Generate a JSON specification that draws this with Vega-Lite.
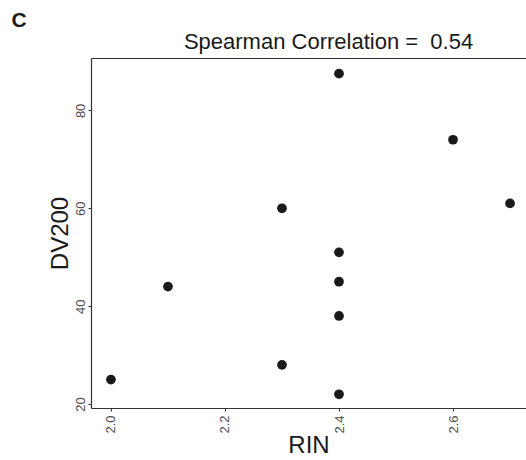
{
  "$schema": "https://vega.github.io/schema/vega-lite/v6.json",
  "width": 435,
  "height": 350,
  "autosize": {"type": "none"},
  "padding": {"left": 91, "top": 58, "right": 0, "bottom": 52},
  "background": "white",
  "config": {
    "font": "Liberation Sans",
    "view": {"stroke": null},
    "axis": {
      "domain": true,
      "domainColor": "#333333",
      "domainWidth": 1.2,
      "grid": false,
      "ticks": true,
      "tickSize": 3,
      "tickColor": "#333333",
      "labelFont": "Liberation Sans",
      "labelFontSize": 13,
      "labelColor": "#4d4d4d",
      "labelAngle": -90,
      "titleFont": "Liberation Sans",
      "titleFontSize": 24,
      "titleFontWeight": "normal",
      "titleColor": "#1a1a1a"
    }
  },
  "title": {
    "text": "Spearman Correlation = \u00a00.54",
    "font": "Liberation Sans",
    "fontSize": 22,
    "fontWeight": "normal",
    "color": "#1a1a1a",
    "anchor": "middle",
    "dx": 20,
    "offset": -44
  },
  "layer": [
    {
      "data": {
        "values": [
          {"RIN": 2.0, "DV200": 25},
          {"RIN": 2.1, "DV200": 44},
          {"RIN": 2.3, "DV200": 28},
          {"RIN": 2.3, "DV200": 60},
          {"RIN": 2.4, "DV200": 87.5},
          {"RIN": 2.4, "DV200": 51},
          {"RIN": 2.4, "DV200": 45},
          {"RIN": 2.4, "DV200": 38},
          {"RIN": 2.4, "DV200": 22},
          {"RIN": 2.6, "DV200": 74},
          {"RIN": 2.7, "DV200": 61}
        ]
      },
      "mark": {"type": "point", "filled": true, "opacity": 1, "size": 95, "color": "#1a1a1a"},
      "encoding": {
        "x": {
          "field": "RIN",
          "type": "quantitative",
          "scale": {"domain": [1.965, 2.728], "nice": false, "zero": false},
          "axis": {"orient": "bottom", "values": [2.0, 2.2, 2.4, 2.6], "format": ".1f", "title": "RIN", "labelPadding": 4, "titlePadding": 0}
        },
        "y": {
          "field": "DV200",
          "type": "quantitative",
          "scale": {"domain": [19.2, 90.7], "nice": false, "zero": false},
          "axis": {"values": [20, 40, 60, 80], "title": "DV200", "labelPadding": 1, "titlePadding": 2, "labelAlign": "center", "labelBaseline": "bottom"}
        }
      }
    },
    {
      "data": {"values": [{"panel": "C"}]},
      "mark": {"type": "text", "fontSize": 21, "fontWeight": "bold", "color": "#1a1a1a", "clip": false, "align": "center", "baseline": "middle"},
      "encoding": {
        "text": {"field": "panel"},
        "x": {
          "datum": 1.8387,
          "type": "quantitative",
          "axis": {"orient": "top", "labels": false, "ticks": false, "title": null, "domain": true}
        },
        "y": {"datum": 98.2, "type": "quantitative"}
      }
    }
  ]
}
